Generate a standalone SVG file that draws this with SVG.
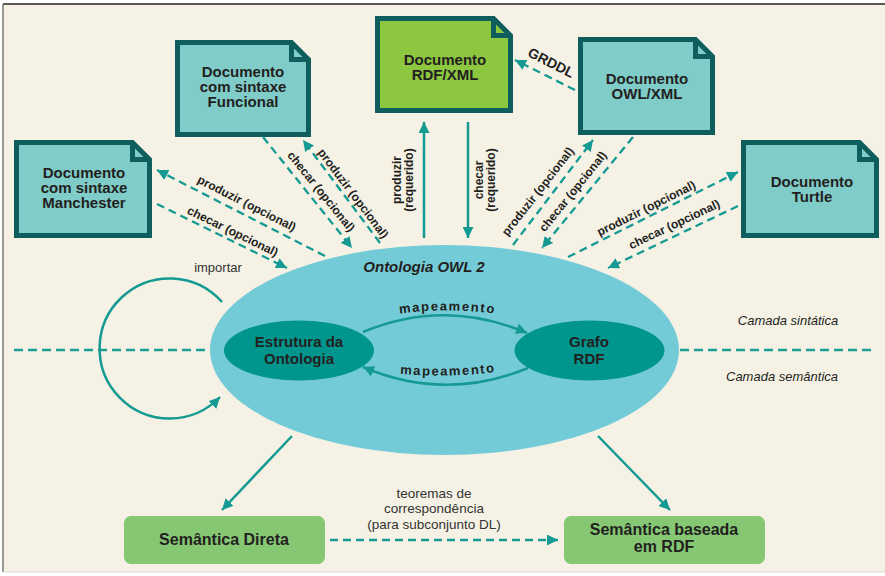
<svg xmlns="http://www.w3.org/2000/svg" width="885" height="576" viewBox="0 0 885 576">
<style>
.doc{fill:#80ccc8;stroke:#0f5e5e;stroke-width:5;stroke-linejoin:miter}
.docg{fill:#8dc63f;stroke:#0f5e5e;stroke-width:5;stroke-linejoin:miter}
.fold{fill:none;stroke:#0f5e5e;stroke-width:5}
.dt{font-family:"Liberation Sans",Arial,sans-serif;font-weight:bold;font-size:15px;fill:#231f20;text-anchor:middle}
.lbl{font-family:"Liberation Sans",Arial,sans-serif;font-weight:bold;font-size:12px;fill:#231f20;text-anchor:middle}
.reg{font-family:"Liberation Sans",Arial,sans-serif;font-size:13.5px;fill:#333;text-anchor:middle}
.it{font-family:"Liberation Sans",Arial,sans-serif;font-style:italic;font-size:13px;fill:#231f20;text-anchor:middle}
.solid{fill:none;stroke:#149a92;stroke-width:2.5}
.dash{fill:none;stroke:#149a92;stroke-width:2.3;stroke-dasharray:8 5}
.sep{fill:none;stroke:#1a9e96;stroke-width:2.5;stroke-dasharray:9 5}
.sem{fill:#86c774}
</style>
<defs>
<marker id="ah" viewBox="0 0 10 10" refX="10" refY="5" markerWidth="11" markerHeight="11" markerUnits="userSpaceOnUse" orient="auto"><path d="M0,0 L10,5 L0,10 Z" fill="#149a92"/></marker>
</defs>
<rect x="0" y="0" width="885" height="576" fill="#ffffff"/>
<rect x="3" y="4" width="882" height="568" fill="#f5f2e5"/>
<line x1="3" y1="4" x2="885" y2="4" stroke="#222" stroke-width="1.5"/>
<line x1="3" y1="4" x2="3" y2="572" stroke="#777" stroke-width="1.5"/>
<line x1="3" y1="572" x2="885" y2="572" stroke="#ddd" stroke-width="1"/>

<g id="separators">
<line class="sep" x1="14" y1="350" x2="210" y2="350"/>
<line class="sep" x1="680" y1="350" x2="876" y2="350"/>
<text class="it" x="788" y="325">Camada sintática</text>
<text class="it" x="782" y="381">Camada semântica</text>
</g>

<g id="ontologia">
<ellipse cx="444.5" cy="350" rx="234.5" ry="105" fill="#74cbd8"/>
<text x="424" y="272" font-family="Liberation Sans,Arial,sans-serif" font-weight="bold" font-style="italic" font-size="15" fill="#231f20" text-anchor="middle">Ontologia OWL 2</text>
</g>

<g id="estrutura">
<ellipse cx="299" cy="350.5" rx="75" ry="30" fill="#00958d"/>
<text class="dt" x="299" y="347">Estrutura da<tspan x="299" dy="17">Ontologia</tspan></text>
</g>

<g id="grafo">
<ellipse cx="589.5" cy="350.5" rx="75" ry="30" fill="#00958d"/>
<text class="dt" x="589" y="347">Grafo<tspan x="589" dy="17">RDF</tspan></text>
</g>

<g id="doc-manchester">
<path class="doc" d="M16.5,142.5 H132.5 L149.5,159.5 V235.5 H16.5 Z"/>
<path class="fold" d="M132.5,142.5 V159.5 H149.5"/>
<text class="dt" x="84" y="178">Documento<tspan x="84" dy="15">com sintaxe</tspan><tspan x="84" dy="15">Manchester</tspan></text>
</g>

<g id="doc-funcional">
<path class="doc" d="M177.5,42.5 H291.5 L308.5,59.5 V134.5 H177.5 Z"/>
<path class="fold" d="M291.5,42.5 V59.5 H308.5"/>
<text class="dt" x="243" y="77">Documento<tspan x="243" dy="15">com sintaxe</tspan><tspan x="243" dy="15">Funcional</tspan></text>
</g>

<g id="doc-rdfxml">
<path class="docg" d="M377.5,18.5 H493.5 L510.5,35.5 V110.5 H377.5 Z"/>
<path class="fold" d="M493.5,18.5 V35.5 H510.5"/>
<text class="dt" x="445" y="65">Documento<tspan x="445" dy="15">RDF/XML</tspan></text>
</g>

<g id="doc-owlxml">
<path class="doc" d="M580.5,39.5 H695.5 L712.5,56.5 V132.5 H580.5 Z"/>
<path class="fold" d="M695.5,39.5 V56.5 H712.5"/>
<text class="dt" x="647" y="84">Documento<tspan x="647" dy="15">OWL/XML</tspan></text>
</g>

<g id="doc-turtle">
<path class="doc" d="M743.5,142.5 H859.5 L876.5,159.5 V235.5 H743.5 Z"/>
<path class="fold" d="M859.5,142.5 V159.5 H876.5"/>
<text class="dt" x="812" y="187">Documento<tspan x="812" dy="15">Turtle</tspan></text>
</g>

<g id="sem-direta">
<rect class="sem" x="124" y="516" width="201" height="48" rx="7"/>
<text class="dt" x="224" y="545" style="font-size:16px">Semântica Direta</text>
</g>

<g id="sem-rdf">
<rect class="sem" x="564" y="516" width="201" height="48" rx="7"/>
<text class="dt" x="664" y="535" style="font-size:16px">Semântica baseada<tspan x="664" dy="17">em RDF</tspan></text>
</g>

<g id="connectors">
<!-- Manchester -->
<path class="dash" d="M325,256 L157,170" marker-end="url(#ah)"/>
<path class="dash" d="M157,204 L287,268" marker-end="url(#ah)"/>
<text class="lbl" transform="translate(245,207) rotate(27)">produzir (opcional)</text>
<text class="lbl" transform="translate(231,235) rotate(26)">checar (opcional)</text>
<!-- Funcional -->
<path class="dash" d="M263,137 L352,248" marker-end="url(#ah)"/>
<path class="dash" d="M380,243 L303,140" marker-end="url(#ah)"/>
<text class="lbl" transform="translate(318,194) rotate(51)">checar (opcional)</text>
<text class="lbl" transform="translate(350,196) rotate(53)">produzir (opcional)</text>
<!-- RDF/XML -->
<path class="solid" d="M424,238 L424,122" marker-end="url(#ah)"/>
<path class="solid" d="M468,122 L468,238" marker-end="url(#ah)"/>
<text class="lbl" transform="translate(401,180) rotate(-90)">produzir<tspan x="0" dy="12">(requerido)</tspan></text>
<text class="lbl" transform="translate(483,180) rotate(-90)">checar<tspan x="0" dy="12">(requerido)</tspan></text>
<!-- OWL/XML -->
<path class="dash" d="M575,90 L515,60" marker-end="url(#ah)"/>
<text class="lbl" style="font-size:14px" transform="translate(549,67) rotate(26.6)">GRDDL</text>
<path class="dash" d="M513,245 L593,140" marker-end="url(#ah)"/>
<path class="dash" d="M633,137 L542,248" marker-end="url(#ah)"/>
<text class="lbl" transform="translate(541,194) rotate(-52)">produzir (opcional)</text>
<text class="lbl" transform="translate(576,194) rotate(-51)">checar (opcional)</text>
<!-- Turtle -->
<path class="dash" d="M568,257 L738,172" marker-end="url(#ah)"/>
<path class="dash" d="M738,206 L608,268" marker-end="url(#ah)"/>
<text class="lbl" transform="translate(648,212) rotate(-26.6)">produzir (opcional)</text>
<text class="lbl" transform="translate(676,228) rotate(-25.5)">checar (opcional)</text>
<!-- importar -->
<path class="solid" d="M222,302 A70,70 0 1 0 220,397" marker-end="url(#ah)"/>
<text class="reg" x="218" y="272" style="font-size:13px">importar</text>
<!-- mapeamento -->
<path class="solid" d="M363,332 Q445,298 527,333" marker-end="url(#ah)"/>
<path class="solid" d="M528,368 Q445,402 363,367" marker-end="url(#ah)"/>
<path id="mp1" d="M390,315 Q447,306 505,315" fill="none"/>
<path id="mp2" d="M393,373 Q447,379 503,371" fill="none"/>
<text class="lbl" style="font-size:13px;letter-spacing:1.6px"><textPath href="#mp1" startOffset="50%">mapeamento</textPath></text>
<text class="lbl" style="font-size:13px;letter-spacing:1.6px"><textPath href="#mp2" startOffset="50%">mapeamento</textPath></text>
<!-- semantics -->
<path class="solid" d="M292,436 L222,510" marker-end="url(#ah)"/>
<path class="solid" d="M598,436 L670,510" marker-end="url(#ah)"/>
<path class="dash" d="M330,540 L558,540" marker-end="url(#ah)"/>
<text class="reg" x="434" y="498">teoremas de<tspan x="434" dy="15">correspondência</tspan><tspan x="434" dy="16">(para subconjunto DL)</tspan></text>
</g>
</svg>
